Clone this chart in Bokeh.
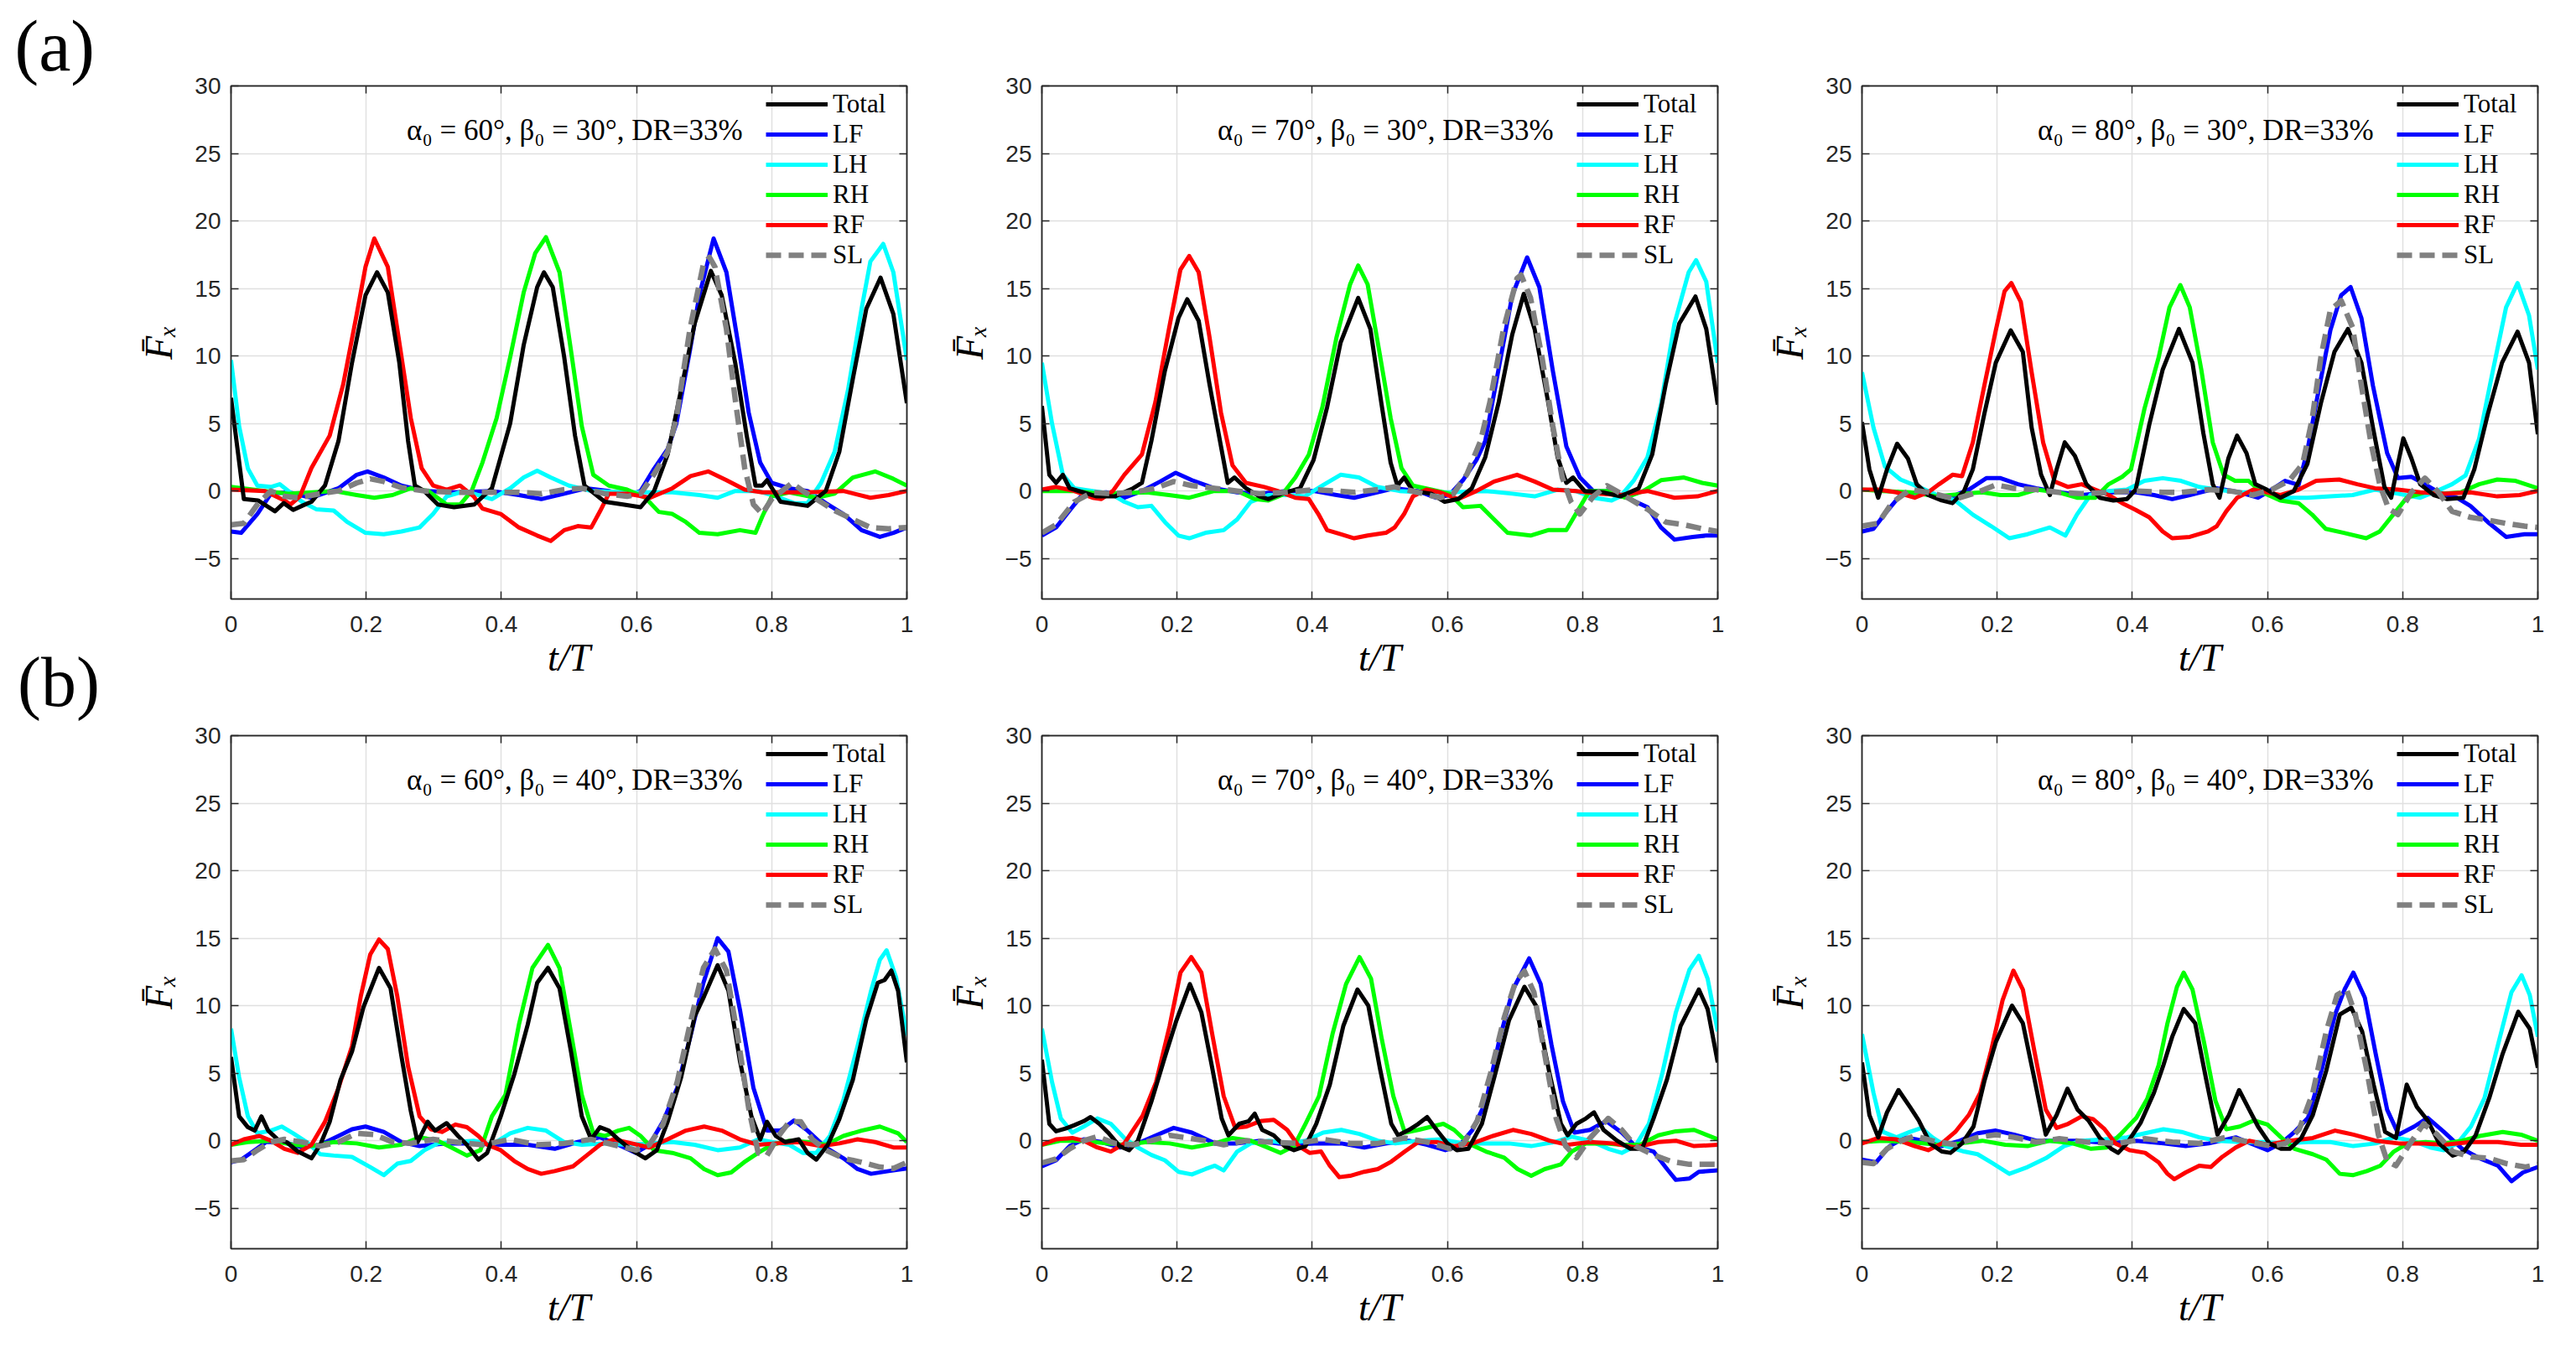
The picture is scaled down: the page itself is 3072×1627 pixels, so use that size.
from bokeh.plotting import figure
from bokeh.models import (Range1d, LinearAxis, Label, Legend, LegendItem,
                          FixedTicker, CustomJSTickFormatter)
from bokeh.layouts import column, row
from bokeh.embed import file_html
from bokeh.resources import INLINE

# ---------------- data (t/T, F_x) ----------------
T_TICKS = [0, 0.2, 0.4, 0.6, 0.8, 1]
F_TICKS = [-5, 0, 5, 10, 15, 20, 25, 30]
SERIES = ["Total", "LF", "LH", "RH", "RF", "SL"]
PANEL_TEXTS = [
    "α₀ = 60°, β₀ = 30°, DR=33%",
    "α₀ = 70°, β₀ = 30°, DR=33%",
    "α₀ = 80°, β₀ = 30°, DR=33%",
    "α₀ = 60°, β₀ = 40°, DR=33%",
    "α₀ = 70°, β₀ = 40°, DR=33%",
    "α₀ = 80°, β₀ = 40°, DR=33%",
]
ROW_TAGS = ["(a)", "(b)"]

# ---- (a) alpha0 = 60, beta0 = 30
A60B30_TOTAL = [(0,6.9),(0.019,-0.6),(0.04,-0.7),(0.065,-1.5),(0.078,-0.9),(0.092,-1.4),(0.105,-1.1),(0.119,-0.8),(0.139,0.4),(0.159,3.7),(0.179,9.5),(0.199,14.5),(0.216,16.2),(0.232,14.7),(0.249,9.5),(0.262,3.7),(0.272,0.4),(0.286,0.0),(0.306,-1.0),(0.33,-1.2),(0.36,-1.0),(0.386,0.2),(0.413,5.0),(0.433,10.8),(0.453,15.1),(0.463,16.2),(0.476,15.1),(0.493,9.9),(0.509,4.1),(0.523,0.4),(0.553,-0.8),(0.58,-1.0),(0.606,-1.2),(0.626,0.0),(0.646,2.7),(0.666,7.5),(0.686,12.4),(0.71,16.3),(0.726,14.5),(0.746,9.5),(0.763,4.1),(0.776,0.4),(0.786,0.4),(0.793,0.8),(0.813,-0.8),(0.853,-1.1),(0.88,0.0),(0.9,2.9),(0.92,8.3),(0.94,13.5),(0.961,15.8),(0.98,13.1),(1.0,6.5)]
A60B30_LF = [(0,-3.0),(0.015,-3.1),(0.039,-1.7),(0.059,-0.2),(0.085,-0.1),(0.119,-0.5),(0.159,0.2),(0.186,1.2),(0.202,1.45),(0.226,1.0),(0.252,0.4),(0.286,0.0),(0.332,-0.1),(0.386,0.0),(0.426,-0.3),(0.459,-0.6),(0.493,-0.2),(0.526,0.2),(0.559,0.0),(0.586,-0.4),(0.606,0.0),(0.626,1.65),(0.646,3.1),(0.659,5.0),(0.679,10.4),(0.693,14.5),(0.714,18.7),(0.733,16.2),(0.75,11.0),(0.766,5.8),(0.783,2.1),(0.8,0.6),(0.826,0.2),(0.853,0.0),(0.88,-0.9),(0.906,-1.7),(0.933,-2.9),(0.96,-3.4),(0.98,-3.1),(1.0,-2.7)]
A60B30_LH = [(0,9.7),(0.012,4.8),(0.025,1.65),(0.039,0.4),(0.059,0.3),(0.072,0.5),(0.085,0.0),(0.105,-0.8),(0.126,-1.35),(0.152,-1.45),(0.172,-2.3),(0.199,-3.1),(0.226,-3.2),(0.252,-3.0),(0.279,-2.7),(0.299,-1.7),(0.319,-0.4),(0.339,-0.1),(0.359,-0.2),(0.386,-0.6),(0.413,0.2),(0.433,1.0),(0.453,1.5),(0.473,1.0),(0.5,0.4),(0.533,0.0),(0.586,-0.1),(0.653,-0.1),(0.693,-0.3),(0.72,-0.5),(0.746,0.0),(0.78,0.0),(0.806,-0.4),(0.833,-0.9),(0.853,-0.9),(0.873,0.6),(0.893,2.9),(0.913,7.5),(0.933,13.5),(0.946,17.0),(0.965,18.3),(0.98,16.2),(1.0,9.7)]
A60B30_RH = [(0,0.3),(0.05,0.0),(0.085,-0.2),(0.152,0.0),(0.186,-0.3),(0.212,-0.5),(0.239,-0.3),(0.266,0.2),(0.292,0.0),(0.319,-1.0),(0.339,-1.0),(0.356,0.0),(0.372,2.1),(0.393,5.4),(0.413,9.9),(0.433,14.7),(0.45,17.6),(0.466,18.8),(0.486,16.2),(0.503,10.4),(0.519,4.8),(0.536,1.2),(0.559,0.4),(0.586,0.1),(0.613,-0.5),(0.633,-1.55),(0.653,-1.7),(0.673,-2.3),(0.693,-3.1),(0.72,-3.2),(0.753,-2.9),(0.776,-3.1),(0.786,-1.9),(0.8,-0.4),(0.826,-0.1),(0.866,-0.5),(0.893,-0.2),(0.92,1.0),(0.953,1.45),(0.98,0.9),(1.0,0.4)]
A60B30_RF = [(0,0.1),(0.05,0.0),(0.079,-0.7),(0.088,-1.0),(0.102,-0.4),(0.119,1.7),(0.146,4.1),(0.166,7.9),(0.186,13.1),(0.199,16.6),(0.212,18.7),(0.232,16.6),(0.249,11.0),(0.266,5.4),(0.282,1.7),(0.299,0.4),(0.319,0.1),(0.339,0.4),(0.359,-0.4),(0.372,-1.3),(0.399,-1.7),(0.426,-2.7),(0.453,-3.3),(0.473,-3.7),(0.493,-2.9),(0.513,-2.6),(0.533,-2.7),(0.546,-1.5),(0.559,-0.2),(0.586,-0.2),(0.62,-0.5),(0.653,0.2),(0.68,1.1),(0.706,1.45),(0.733,0.8),(0.76,0.1),(0.786,-0.1),(0.853,-0.1),(0.906,0.0),(0.946,-0.5),(0.973,-0.3),(1.0,0.0)]
A60B30_SL = [(0,-2.5),(0.019,-2.4),(0.039,-1.0),(0.059,0.0),(0.079,-0.4),(0.099,-0.5),(0.132,-0.2),(0.159,0.0),(0.186,0.6),(0.206,0.9),(0.226,0.7),(0.252,0.25),(0.286,0.0),(0.332,-0.1),(0.386,-0.1),(0.426,-0.1),(0.459,-0.2),(0.493,0.1),(0.519,0.2),(0.553,-0.2),(0.586,-0.4),(0.606,-0.2),(0.626,1.25),(0.646,2.9),(0.659,5.4),(0.679,12.0),(0.699,16.8),(0.708,17.3),(0.716,16.6),(0.733,12.0),(0.746,6.8),(0.76,1.7),(0.773,-1.0),(0.786,-1.7),(0.8,-0.6),(0.82,0.2),(0.83,0.6),(0.846,0.0),(0.866,-0.6),(0.893,-1.45),(0.92,-2.1),(0.946,-2.7),(0.973,-2.8),(1.0,-2.7)]

# ---- (a) alpha0 = 70, beta0 = 30
A70B30_TOTAL = [(0,6.3),(0.011,1.2),(0.021,0.6),(0.031,1.2),(0.041,0.2),(0.061,-0.1),(0.081,-0.4),(0.108,-0.4),(0.135,0.2),(0.148,0.6),(0.162,3.7),(0.182,8.9),(0.202,12.8),(0.215,14.2),(0.232,12.6),(0.248,7.9),(0.265,3.3),(0.275,0.6),(0.285,1.0),(0.302,0.2),(0.322,-0.4),(0.335,-0.6),(0.355,-0.2),(0.382,0.2),(0.402,2.3),(0.422,6.2),(0.442,11.0),(0.468,14.3),(0.486,12.0),(0.502,6.6),(0.516,2.1),(0.526,0.4),(0.536,1.0),(0.549,0.0),(0.576,-0.2),(0.596,-0.8),(0.616,-0.6),(0.636,0.2),(0.656,2.5),(0.676,6.6),(0.696,11.6),(0.713,14.6),(0.729,12.0),(0.749,6.6),(0.763,2.5),(0.776,0.6),(0.786,1.0),(0.803,0.0),(0.83,-0.1),(0.856,-0.4),(0.883,0.2),(0.903,2.7),(0.923,7.9),(0.943,12.4),(0.967,14.4),(0.983,12.0),(1.0,6.4)]
A70B30_LF = [(0,-3.3),(0.021,-2.7),(0.041,-1.45),(0.061,-0.2),(0.095,-0.1),(0.122,-0.5),(0.148,0.0),(0.175,0.7),(0.198,1.35),(0.222,0.8),(0.255,0.2),(0.289,-0.1),(0.322,-0.2),(0.362,0.0),(0.402,0.0),(0.436,-0.3),(0.462,-0.5),(0.496,-0.1),(0.522,0.2),(0.556,0.0),(0.583,-0.5),(0.603,-0.3),(0.623,0.8),(0.643,2.3),(0.656,3.7),(0.676,9.1),(0.696,14.5),(0.718,17.3),(0.736,15.1),(0.756,8.9),(0.776,3.3),(0.796,1.0),(0.816,0.0),(0.843,0.0),(0.87,-0.6),(0.896,-1.2),(0.916,-2.7),(0.936,-3.6),(0.963,-3.4),(0.983,-3.3),(1.0,-3.3)]
A70B30_LH = [(0,9.5),(0.015,5.0),(0.031,1.2),(0.048,0.2),(0.075,0.0),(0.102,-0.2),(0.122,-0.8),(0.142,-1.2),(0.162,-1.1),(0.182,-2.3),(0.202,-3.3),(0.218,-3.5),(0.242,-3.1),(0.269,-2.9),(0.289,-2.1),(0.309,-0.8),(0.335,-0.3),(0.362,-0.3),(0.389,-0.4),(0.415,0.4),(0.442,1.2),(0.469,1.0),(0.496,0.3),(0.529,0.0),(0.562,-0.1),(0.603,-0.1),(0.656,0.0),(0.696,-0.2),(0.729,-0.4),(0.763,0.1),(0.79,0.0),(0.816,-0.5),(0.843,-0.7),(0.856,-0.4),(0.876,0.8),(0.896,2.5),(0.916,6.4),(0.936,12.4),(0.957,16.2),(0.968,17.1),(0.983,15.5),(1.0,9.5)]
A70B30_RH = [(0,0.0),(0.048,0.0),(0.088,-0.2),(0.155,-0.1),(0.188,-0.3),(0.218,-0.5),(0.255,0.0),(0.289,0.0),(0.315,-0.6),(0.335,-0.7),(0.355,-0.3),(0.375,1.0),(0.395,2.7),(0.415,6.2),(0.436,11.4),(0.456,15.3),(0.468,16.7),(0.482,15.3),(0.499,10.4),(0.516,5.4),(0.532,1.7),(0.549,0.4),(0.576,0.1),(0.603,-0.2),(0.623,-1.2),(0.649,-1.1),(0.669,-2.1),(0.689,-3.1),(0.723,-3.3),(0.749,-2.9),(0.776,-2.9),(0.79,-1.7),(0.81,0.0),(0.836,0.0),(0.863,-0.5),(0.89,0.0),(0.916,0.8),(0.95,1.0),(0.977,0.6),(1.0,0.4)]
A70B30_RF = [(0,0.1),(0.021,0.3),(0.048,0.0),(0.075,-0.5),(0.088,-0.6),(0.105,0.0),(0.122,1.2),(0.148,2.7),(0.168,6.6),(0.188,12.0),(0.205,16.4),(0.218,17.4),(0.232,16.2),(0.248,11.4),(0.265,5.8),(0.282,1.9),(0.302,0.6),(0.329,0.3),(0.349,0.0),(0.375,-0.5),(0.395,-0.6),(0.409,-1.7),(0.422,-2.9),(0.442,-3.2),(0.462,-3.5),(0.482,-3.3),(0.509,-3.1),(0.522,-2.7),(0.536,-1.7),(0.549,-0.4),(0.569,0.1),(0.589,-0.1),(0.616,-0.6),(0.643,0.0),(0.669,0.7),(0.703,1.2),(0.729,0.7),(0.756,0.1),(0.79,0.0),(0.823,-0.2),(0.856,-0.3),(0.896,0.0),(0.936,-0.5),(0.97,-0.4),(1.0,0.0)]
A70B30_SL = [(0,-3.1),(0.021,-2.5),(0.048,-0.8),(0.075,-0.1),(0.102,-0.2),(0.135,-0.1),(0.168,0.2),(0.195,0.7),(0.222,0.4),(0.255,0.2),(0.289,0.0),(0.322,-0.2),(0.362,-0.1),(0.402,0.1),(0.436,0.0),(0.462,-0.1),(0.496,0.1),(0.522,0.3),(0.556,-0.1),(0.589,-0.5),(0.609,-0.2),(0.629,1.25),(0.649,3.7),(0.663,6.6),(0.683,12.0),(0.703,15.75),(0.709,16.0),(0.723,14.3),(0.74,9.9),(0.756,4.8),(0.77,1.0),(0.783,-0.8),(0.796,-1.7),(0.816,-0.4),(0.836,0.4),(0.85,0.0),(0.87,-0.6),(0.896,-1.35),(0.923,-2.3),(0.95,-2.5),(0.977,-2.8),(1.0,-3.0)]

# ---- (a) alpha0 = 80, beta0 = 30
A80B30_TOTAL = [(0,5.1),(0.011,1.6),(0.024,-0.5),(0.037,1.6),(0.052,3.5),(0.068,2.4),(0.081,0.5),(0.098,-0.3),(0.118,-0.7),(0.134,-0.9),(0.151,0.0),(0.164,1.6),(0.181,5.7),(0.198,9.5),(0.22,11.9),(0.238,10.3),(0.251,4.7),(0.265,1.2),(0.278,-0.3),(0.288,1.6),(0.3,3.6),(0.315,2.6),(0.332,0.5),(0.352,-0.5),(0.372,-0.7),(0.392,-0.6),(0.405,0.1),(0.425,4.9),(0.445,9.0),(0.469,12.0),(0.489,9.5),(0.505,4.3),(0.519,0.5),(0.529,-0.5),(0.542,2.4),(0.555,4.1),(0.569,2.8),(0.582,0.5),(0.599,0.1),(0.619,-0.5),(0.639,0.0),(0.659,2.0),(0.679,6.5),(0.699,10.3),(0.719,12.0),(0.739,9.5),(0.756,4.7),(0.773,0.3),(0.783,-0.5),(0.793,2.0),(0.801,3.9),(0.813,2.4),(0.826,0.5),(0.846,-0.3),(0.866,-0.6),(0.89,-0.5),(0.906,1.6),(0.926,5.7),(0.947,9.5),(0.97,11.8),(0.987,9.5),(1.0,4.2)]
A80B30_LF = [(0,-3.0),(0.017,-2.8),(0.037,-1.5),(0.057,-0.3),(0.084,-0.1),(0.124,-0.6),(0.158,0.1),(0.184,0.95),(0.205,0.95),(0.231,0.5),(0.258,0.2),(0.291,-0.1),(0.325,-0.3),(0.365,-0.1),(0.405,-0.1),(0.432,-0.3),(0.459,-0.6),(0.485,-0.3),(0.525,0.2),(0.559,-0.1),(0.586,-0.5),(0.606,0.1),(0.626,0.75),(0.646,0.45),(0.659,3.0),(0.672,6.5),(0.693,11.9),(0.709,14.5),(0.723,15.1),(0.739,12.8),(0.756,7.8),(0.777,2.8),(0.793,0.95),(0.813,1.05),(0.833,0.5),(0.853,-0.1),(0.88,-0.5),(0.9,-1.1),(0.926,-2.3),(0.953,-3.4),(0.98,-3.2),(1.0,-3.2)]
A80B30_LH = [(0,8.8),(0.017,4.7),(0.034,1.8),(0.057,0.85),(0.084,0.3),(0.111,-0.3),(0.138,-0.7),(0.164,-1.75),(0.191,-2.6),(0.218,-3.5),(0.245,-3.2),(0.278,-2.7),(0.301,-3.3),(0.318,-1.75),(0.338,-0.3),(0.365,0.0),(0.392,0.1),(0.418,0.75),(0.445,0.95),(0.472,0.75),(0.499,0.3),(0.525,0.1),(0.559,-0.1),(0.592,-0.1),(0.626,-0.5),(0.659,-0.5),(0.693,-0.4),(0.726,-0.3),(0.759,0.1),(0.793,-0.2),(0.826,-0.5),(0.846,-0.1),(0.873,0.5),(0.893,1.15),(0.913,3.85),(0.933,8.8),(0.953,13.6),(0.97,15.4),(0.987,13.0),(1.0,9.0)]
A80B30_RH = [(0,0.1),(0.031,0.0),(0.071,-0.1),(0.111,-0.4),(0.151,-0.2),(0.178,-0.1),(0.205,-0.3),(0.231,-0.3),(0.258,0.1),(0.291,-0.1),(0.318,-0.5),(0.345,-0.5),(0.365,0.5),(0.385,1.05),(0.398,1.6),(0.418,6.1),(0.439,9.9),(0.455,13.6),(0.471,15.25),(0.485,13.6),(0.502,9.0),(0.519,3.6),(0.535,1.2),(0.552,0.75),(0.572,0.75),(0.592,-0.1),(0.619,-0.7),(0.646,-0.9),(0.666,-1.75),(0.686,-2.8),(0.713,-3.1),(0.746,-3.5),(0.766,-3.0),(0.786,-1.75),(0.806,-0.5),(0.833,-0.1),(0.86,-0.2),(0.886,-0.1),(0.913,0.5),(0.94,0.85),(0.967,0.75),(1.0,0.2)]
A80B30_RF = [(0,0.1),(0.024,0.1),(0.051,-0.1),(0.078,-0.5),(0.098,-0.1),(0.114,0.5),(0.134,1.2),(0.148,1.1),(0.164,3.6),(0.181,7.8),(0.198,11.9),(0.211,14.8),(0.221,15.4),(0.235,14.0),(0.251,8.8),(0.268,3.6),(0.285,0.7),(0.305,0.3),(0.325,0.5),(0.345,0.1),(0.365,-0.3),(0.385,-0.9),(0.405,-1.4),(0.425,-1.95),(0.445,-3.0),(0.459,-3.5),(0.485,-3.4),(0.512,-3.0),(0.525,-2.6),(0.539,-1.5),(0.555,-0.5),(0.579,0.1),(0.599,-0.1),(0.619,-0.3),(0.646,0.1),(0.672,0.75),(0.706,0.85),(0.733,0.5),(0.759,0.2),(0.793,0.1),(0.826,-0.1),(0.86,-0.2),(0.9,-0.1),(0.94,-0.4),(0.973,-0.3),(1.0,0.0)]
A80B30_SL = [(0,-2.6),(0.024,-2.4),(0.044,-0.9),(0.071,0.1),(0.098,-0.1),(0.138,-0.6),(0.171,-0.1),(0.198,0.45),(0.225,0.2),(0.258,0.1),(0.291,-0.1),(0.325,-0.2),(0.365,-0.1),(0.405,0.0),(0.445,-0.1),(0.472,-0.1),(0.512,0.1),(0.545,0.0),(0.579,-0.3),(0.606,0.1),(0.632,0.75),(0.652,2.0),(0.666,5.3),(0.679,9.9),(0.693,13.4),(0.709,14.1),(0.726,12.1),(0.739,7.8),(0.753,3.6),(0.766,0.5),(0.779,-1.3),(0.793,-1.75),(0.813,-0.1),(0.833,0.95),(0.853,-0.1),(0.873,-1.5),(0.9,-1.95),(0.926,-2.15),(0.953,-2.4),(0.98,-2.6),(1.0,-2.7)]

# ---- (b) alpha0 = 60, beta0 = 40
A60B40_TOTAL = [(0,6.2),(0.012,1.8),(0.025,1.0),(0.035,0.75),(0.045,1.8),(0.055,0.75),(0.069,0.1),(0.082,-0.1),(0.099,-0.8),(0.119,-1.3),(0.132,-0.3),(0.146,1.4),(0.162,4.5),(0.179,6.6),(0.196,9.9),(0.219,12.8),(0.236,11.3),(0.252,6.3),(0.266,2.2),(0.276,-0.1),(0.291,1.4),(0.302,0.75),(0.319,1.3),(0.336,0.35),(0.349,-0.3),(0.366,-1.4),(0.379,-0.9),(0.399,1.8),(0.419,4.9),(0.439,8.6),(0.453,11.7),(0.469,12.8),(0.486,11.3),(0.503,6.6),(0.519,1.8),(0.533,0.1),(0.546,1.0),(0.559,0.75),(0.573,0.1),(0.593,-0.7),(0.613,-1.3),(0.63,-0.7),(0.646,1.4),(0.666,4.7),(0.686,9.2),(0.7,10.7),(0.72,13.0),(0.736,11.1),(0.753,5.9),(0.77,1.8),(0.783,0.1),(0.793,1.4),(0.806,0.35),(0.82,-0.1),(0.84,0.1),(0.853,-0.9),(0.866,-1.4),(0.883,-0.3),(0.9,1.6),(0.92,4.5),(0.94,9.0),(0.957,11.7),(0.967,11.9),(0.977,12.6),(0.987,11.1),(1.0,5.8)]
A60B40_LF = [(0,-1.6),(0.015,-1.4),(0.035,-0.7),(0.052,-0.1),(0.079,-0.1),(0.105,-0.5),(0.132,-0.3),(0.159,0.35),(0.179,0.85),(0.199,1.05),(0.226,0.65),(0.252,-0.1),(0.279,-0.4),(0.319,-0.2),(0.359,-0.2),(0.399,-0.3),(0.439,-0.3),(0.479,-0.6),(0.513,-0.1),(0.546,0.25),(0.573,-0.3),(0.599,-0.9),(0.619,-0.3),(0.639,1.4),(0.66,3.9),(0.679,7.6),(0.699,11.7),(0.72,15.0),(0.736,14.0),(0.753,9.7),(0.773,3.9),(0.793,0.75),(0.813,0.75),(0.833,1.5),(0.853,0.75),(0.88,-0.5),(0.906,-1.3),(0.927,-2.1),(0.947,-2.45),(0.973,-2.25),(1.0,-2.05)]
A60B40_LH = [(0,8.3),(0.012,4.7),(0.025,1.8),(0.039,0.55),(0.059,0.75),(0.075,1.05),(0.092,0.55),(0.112,-0.1),(0.132,-1.0),(0.152,-1.1),(0.179,-1.2),(0.206,-1.95),(0.226,-2.55),(0.246,-1.7),(0.266,-1.5),(0.286,-0.7),(0.306,-0.2),(0.332,-0.1),(0.359,0.0),(0.386,-0.3),(0.413,0.55),(0.439,0.95),(0.466,0.75),(0.493,-0.1),(0.519,-0.3),(0.553,-0.2),(0.586,-0.3),(0.619,-0.2),(0.653,-0.1),(0.686,-0.3),(0.72,-0.7),(0.753,-0.5),(0.78,0.1),(0.8,-0.1),(0.826,-0.3),(0.846,-0.9),(0.866,-0.9),(0.886,0.35),(0.906,3.0),(0.927,7.0),(0.947,11.1),(0.96,13.4),(0.97,14.1),(0.984,12.1),(1.0,7.8)]
A60B40_RH = [(0,-0.3),(0.025,-0.1),(0.059,0.0),(0.092,-0.3),(0.119,-0.4),(0.152,-0.1),(0.186,-0.2),(0.219,-0.5),(0.252,-0.3),(0.279,0.25),(0.306,0.0),(0.326,-0.5),(0.349,-1.1),(0.369,-0.7),(0.386,1.8),(0.406,3.4),(0.426,8.6),(0.446,12.8),(0.469,14.5),(0.486,12.8),(0.503,8.0),(0.519,3.4),(0.536,0.55),(0.553,0.35),(0.573,0.75),(0.589,0.95),(0.606,0.35),(0.626,-0.7),(0.653,-0.9),(0.68,-1.3),(0.7,-2.1),(0.72,-2.55),(0.74,-2.35),(0.759,-1.6),(0.78,-0.9),(0.8,-0.3),(0.826,0.0),(0.853,-0.1),(0.88,-0.3),(0.906,0.35),(0.933,0.75),(0.96,1.05),(0.987,0.55),(1.0,-0.1)]
A60B40_RF = [(0,-0.3),(0.019,0.1),(0.042,0.35),(0.059,0.0),(0.079,-0.6),(0.099,-0.9),(0.119,-0.3),(0.139,1.4),(0.159,3.9),(0.179,7.0),(0.192,10.7),(0.206,13.8),(0.219,14.9),(0.232,14.2),(0.246,10.7),(0.262,5.5),(0.279,1.8),(0.296,0.85),(0.312,0.65),(0.332,1.2),(0.349,1.0),(0.366,0.35),(0.379,-0.3),(0.399,-0.7),(0.419,-1.5),(0.439,-2.1),(0.459,-2.45),(0.479,-2.25),(0.506,-1.9),(0.526,-1.1),(0.546,-0.3),(0.566,0.1),(0.593,-0.2),(0.619,-0.5),(0.646,0.1),(0.673,0.75),(0.7,1.05),(0.726,0.75),(0.753,0.1),(0.78,-0.3),(0.806,-0.2),(0.84,-0.1),(0.873,-0.4),(0.9,-0.2),(0.927,0.1),(0.953,-0.1),(0.98,-0.5),(1.0,-0.5)]
A60B40_SL = [(0,-1.5),(0.019,-1.4),(0.039,-0.7),(0.059,-0.1),(0.079,0.1),(0.105,-0.1),(0.132,-0.4),(0.159,-0.1),(0.186,0.55),(0.212,0.45),(0.239,-0.1),(0.266,-0.2),(0.299,0.1),(0.332,-0.1),(0.372,-0.3),(0.413,0.1),(0.453,-0.3),(0.493,-0.2),(0.533,0.1),(0.566,-0.3),(0.599,-0.7),(0.619,-0.3),(0.639,1.2),(0.66,4.3),(0.679,8.6),(0.699,12.8),(0.716,14.2),(0.733,12.6),(0.75,7.6),(0.766,2.4),(0.78,-0.9),(0.793,-1.1),(0.81,0.35),(0.826,1.4),(0.843,1.4),(0.86,0.1),(0.88,-0.7),(0.906,-1.3),(0.933,-1.6),(0.96,-1.95),(0.98,-2.05),(1.0,-1.6)]

# ---- (b) alpha0 = 70, beta0 = 40
A70B40_TOTAL = [(0,6.0),(0.011,1.25),(0.021,0.7),(0.035,0.9),(0.048,1.15),(0.062,1.45),(0.072,1.75),(0.085,1.25),(0.098,0.6),(0.115,-0.4),(0.129,-0.7),(0.142,0.0),(0.162,2.9),(0.182,6.2),(0.199,8.9),(0.219,11.6),(0.236,9.5),(0.252,5.4),(0.266,1.65),(0.276,0.4),(0.292,1.25),(0.306,1.45),(0.315,2.0),(0.326,0.8),(0.343,0.4),(0.359,-0.4),(0.373,-0.7),(0.39,-0.4),(0.406,1.25),(0.426,4.15),(0.446,8.5),(0.467,11.2),(0.483,10.0),(0.5,5.4),(0.517,1.25),(0.527,0.4),(0.543,0.8),(0.557,1.25),(0.57,1.75),(0.584,0.8),(0.6,-0.2),(0.614,-0.7),(0.631,-0.6),(0.651,1.25),(0.671,5.0),(0.691,8.9),(0.714,11.4),(0.731,10.0),(0.751,5.0),(0.768,1.25),(0.778,0.4),(0.791,1.25),(0.805,1.65),(0.817,2.1),(0.831,0.8),(0.851,0.0),(0.871,-0.6),(0.888,-0.6),(0.905,1.65),(0.925,4.55),(0.945,8.5),(0.972,11.2),(0.985,9.75),(1.0,5.8)]
A70B40_LF = [(0,-1.9),(0.021,-1.45),(0.041,-0.4),(0.062,0.1),(0.088,-0.1),(0.115,-0.5),(0.142,-0.2),(0.169,0.4),(0.195,0.95),(0.222,0.6),(0.256,-0.2),(0.289,-0.2),(0.323,0.0),(0.363,-0.3),(0.403,-0.2),(0.443,-0.2),(0.477,-0.5),(0.51,-0.2),(0.543,0.0),(0.57,-0.3),(0.597,-0.7),(0.617,-0.4),(0.637,0.8),(0.657,2.9),(0.677,7.5),(0.697,11.2),(0.721,13.5),(0.738,11.6),(0.754,7.1),(0.771,2.9),(0.788,0.6),(0.811,0.8),(0.835,1.45),(0.858,0.6),(0.878,-0.4),(0.905,-0.8),(0.925,-2.1),(0.938,-2.9),(0.958,-2.8),(0.972,-2.3),(1.0,-2.2)]
A70B40_LH = [(0,8.3),(0.015,4.35),(0.028,1.65),(0.045,0.6),(0.062,1.05),(0.082,1.65),(0.102,1.25),(0.122,0.2),(0.142,-0.5),(0.162,-1.05),(0.182,-1.45),(0.202,-2.3),(0.222,-2.5),(0.242,-2.1),(0.256,-1.85),(0.269,-2.2),(0.289,-0.8),(0.309,-0.2),(0.336,0.0),(0.363,-0.2),(0.39,0.0),(0.416,0.6),(0.443,0.8),(0.47,0.5),(0.497,0.0),(0.523,-0.2),(0.557,0.0),(0.59,0.1),(0.624,-0.2),(0.657,-0.2),(0.691,-0.2),(0.724,-0.4),(0.758,-0.1),(0.784,0.3),(0.811,0.0),(0.838,-0.6),(0.858,-0.9),(0.878,-0.4),(0.898,1.25),(0.918,5.0),(0.938,9.5),(0.958,12.65),(0.972,13.7),(0.985,12.0),(1.0,8.1)]
A70B40_RH = [(0,-0.3),(0.028,0.0),(0.062,0.0),(0.095,-0.2),(0.122,-0.3),(0.155,-0.1),(0.189,-0.2),(0.222,-0.5),(0.256,-0.2),(0.282,0.2),(0.309,0.0),(0.329,-0.4),(0.353,-0.9),(0.373,-0.4),(0.39,1.25),(0.41,3.3),(0.43,7.9),(0.45,11.6),(0.47,13.6),(0.487,12.0),(0.503,7.5),(0.52,3.3),(0.537,0.6),(0.557,0.8),(0.577,1.05),(0.594,1.25),(0.61,0.8),(0.631,-0.2),(0.657,-0.8),(0.684,-1.25),(0.704,-2.1),(0.724,-2.6),(0.744,-2.1),(0.768,-1.75),(0.784,-0.8),(0.805,-0.2),(0.831,-0.2),(0.858,-0.3),(0.885,-0.3),(0.912,0.4),(0.938,0.7),(0.965,0.8),(1.0,0.1)]
A70B40_RF = [(0,-0.3),(0.021,0.1),(0.045,0.2),(0.062,0.0),(0.082,-0.5),(0.102,-0.8),(0.122,-0.2),(0.149,1.85),(0.169,4.35),(0.189,8.5),(0.205,12.45),(0.221,13.6),(0.236,12.45),(0.252,7.9),(0.269,3.3),(0.286,0.95),(0.303,1.05),(0.323,1.45),(0.343,1.55),(0.363,0.8),(0.38,-0.4),(0.396,-0.9),(0.413,-0.8),(0.426,-1.85),(0.44,-2.7),(0.456,-2.6),(0.477,-2.3),(0.497,-2.1),(0.517,-1.55),(0.537,-0.8),(0.557,-0.1),(0.584,-0.1),(0.61,-0.4),(0.637,-0.2),(0.664,0.3),(0.697,0.8),(0.724,0.5),(0.751,0.0),(0.778,-0.3),(0.811,-0.1),(0.845,-0.2),(0.878,-0.5),(0.912,-0.1),(0.938,0.0),(0.965,-0.4),(1.0,-0.3)]
A70B40_SL = [(0,-1.65),(0.021,-1.35),(0.041,-0.6),(0.062,0.0),(0.082,0.3),(0.108,-0.2),(0.135,-0.3),(0.162,0.0),(0.189,0.4),(0.216,0.2),(0.242,0.0),(0.269,-0.3),(0.303,0.0),(0.336,-0.1),(0.376,-0.2),(0.416,0.1),(0.456,-0.2),(0.497,-0.2),(0.537,0.2),(0.57,-0.1),(0.604,-0.6),(0.624,-0.2),(0.644,1.45),(0.664,5.0),(0.684,9.1),(0.701,11.8),(0.714,12.55),(0.728,11.0),(0.744,6.4),(0.761,1.65),(0.775,-0.4),(0.791,-1.25),(0.811,0.2),(0.838,1.65),(0.858,0.8),(0.878,-0.4),(0.905,-1.05),(0.932,-1.55),(0.958,-1.75),(1.0,-1.75)]

# ---- (b) alpha0 = 80, beta0 = 40
A80B40_TOTAL = [(0,5.8),(0.011,1.9),(0.024,0.25),(0.037,2.1),(0.054,3.75),(0.071,2.5),(0.084,1.5),(0.101,-0.2),(0.118,-0.8),(0.131,-0.9),(0.148,-0.2),(0.165,1.05),(0.181,4.4),(0.198,7.3),(0.222,10.0),(0.238,8.7),(0.255,4.6),(0.272,0.45),(0.288,1.9),(0.304,3.85),(0.319,2.3),(0.335,1.5),(0.352,0.2),(0.369,-0.6),(0.379,-0.9),(0.392,-0.2),(0.412,1.3),(0.432,3.55),(0.446,5.6),(0.459,7.7),(0.476,9.75),(0.493,8.7),(0.509,4.6),(0.526,0.45),(0.543,1.9),(0.558,3.75),(0.573,2.3),(0.586,1.05),(0.603,-0.2),(0.62,-0.6),(0.633,-0.6),(0.65,0.2),(0.667,1.9),(0.687,5.2),(0.707,9.35),(0.724,9.85),(0.74,8.1),(0.757,4.15),(0.774,0.65),(0.79,0.2),(0.806,4.15),(0.821,2.5),(0.837,1.5),(0.854,-0.2),(0.874,-1.1),(0.891,-0.8),(0.908,0.4),(0.928,3.15),(0.948,6.45),(0.971,9.55),(0.988,8.3),(1.0,5.4)]
A80B40_LF = [(0,-1.4),(0.021,-1.6),(0.041,-0.4),(0.064,0.25),(0.091,0.0),(0.118,-0.4),(0.145,0.0),(0.171,0.55),(0.198,0.75),(0.225,0.45),(0.258,0.0),(0.292,0.0),(0.325,0.0),(0.365,-0.2),(0.406,0.0),(0.446,-0.2),(0.479,-0.4),(0.513,-0.2),(0.553,0.25),(0.58,-0.3),(0.6,-0.7),(0.62,-0.2),(0.64,0.65),(0.66,1.7),(0.68,5.2),(0.7,9.35),(0.714,11.2),(0.727,12.45),(0.744,10.6),(0.76,6.45),(0.777,2.3),(0.794,0.45),(0.817,1.05),(0.837,1.7),(0.861,0.65),(0.888,-0.6),(0.914,-1.3),(0.941,-1.85),(0.961,-3.0),(0.978,-2.35),(1.0,-1.95)]
A80B40_LH = [(0,7.9),(0.017,3.55),(0.031,0.65),(0.051,0.25),(0.071,0.65),(0.088,0.95),(0.104,0.25),(0.124,-0.4),(0.151,-0.8),(0.171,-1.0),(0.191,-1.6),(0.218,-2.45),(0.245,-1.95),(0.272,-1.3),(0.299,-0.4),(0.325,0.0),(0.359,0.1),(0.392,0.25),(0.419,0.55),(0.446,0.85),(0.473,0.65),(0.499,0.25),(0.526,0.0),(0.56,-0.1),(0.593,-0.1),(0.627,-0.2),(0.66,-0.1),(0.693,-0.1),(0.727,-0.4),(0.76,-0.2),(0.787,0.25),(0.814,0.0),(0.841,-0.5),(0.861,-0.7),(0.881,-0.2),(0.901,1.05),(0.921,3.15),(0.941,7.1),(0.961,11.0),(0.976,12.25),(0.988,10.8),(1.0,7.7)]
A80B40_RH = [(0,-0.1),(0.031,0.0),(0.071,-0.1),(0.111,-0.3),(0.145,-0.2),(0.178,0.0),(0.212,-0.3),(0.245,-0.4),(0.278,0.0),(0.312,-0.2),(0.339,-0.6),(0.362,-0.5),(0.382,0.45),(0.406,1.7),(0.422,3.1),(0.439,5.6),(0.452,8.7),(0.466,11.4),(0.476,12.45),(0.489,11.2),(0.506,7.3),(0.523,2.95),(0.539,0.85),(0.559,1.05),(0.58,1.5),(0.6,1.2),(0.62,0.25),(0.64,-0.6),(0.667,-1.0),(0.687,-1.4),(0.707,-2.45),(0.727,-2.55),(0.747,-2.25),(0.767,-1.85),(0.787,-0.8),(0.807,-0.2),(0.834,-0.1),(0.861,-0.2),(0.888,0.0),(0.914,0.35),(0.948,0.65),(0.975,0.45),(1.0,0.0)]
A80B40_RF = [(0,-0.2),(0.024,0.2),(0.051,0.1),(0.078,-0.4),(0.098,-0.7),(0.118,-0.2),(0.138,0.65),(0.158,1.9),(0.175,3.55),(0.191,6.65),(0.208,10.4),(0.224,12.6),(0.238,11.2),(0.255,6.65),(0.272,2.3),(0.288,0.95),(0.305,1.25),(0.325,1.8),(0.342,1.6),(0.359,0.85),(0.375,-0.2),(0.396,-0.7),(0.419,-0.9),(0.439,-1.6),(0.452,-2.45),(0.462,-2.85),(0.479,-2.35),(0.499,-1.85),(0.516,-1.95),(0.533,-1.2),(0.553,-0.5),(0.573,0.0),(0.6,-0.3),(0.633,0.0),(0.667,0.2),(0.7,0.75),(0.727,0.45),(0.76,0.0),(0.794,-0.2),(0.827,-0.2),(0.861,-0.3),(0.901,-0.1),(0.941,-0.1),(0.975,-0.3),(1.0,-0.3)]
A80B40_SL = [(0,-1.6),(0.017,-1.7),(0.037,-0.6),(0.058,0.0),(0.078,0.35),(0.104,0.0),(0.138,-0.3),(0.171,0.25),(0.198,0.45),(0.225,0.25),(0.258,-0.1),(0.292,0.15),(0.332,-0.1),(0.379,-0.2),(0.419,0.15),(0.459,-0.1),(0.499,-0.2),(0.539,0.25),(0.573,-0.1),(0.606,-0.4),(0.627,-0.2),(0.647,0.85),(0.667,3.55),(0.687,8.1),(0.703,10.8),(0.717,11.2),(0.73,9.35),(0.747,5.2),(0.764,0.45),(0.777,-1.5),(0.79,-1.85),(0.811,-0.2),(0.831,1.25),(0.851,0.45),(0.874,-0.8),(0.901,-1.2),(0.928,-1.3),(0.954,-1.7),(0.981,-1.95),(1.0,-1.75)]

PANEL_DATA = [
    dict(Total=A60B30_TOTAL, LF=A60B30_LF, LH=A60B30_LH, RH=A60B30_RH, RF=A60B30_RF, SL=A60B30_SL),
    dict(Total=A70B30_TOTAL, LF=A70B30_LF, LH=A70B30_LH, RH=A70B30_RH, RF=A70B30_RF, SL=A70B30_SL),
    dict(Total=A80B30_TOTAL, LF=A80B30_LF, LH=A80B30_LH, RH=A80B30_RH, RF=A80B30_RF, SL=A80B30_SL),
    dict(Total=A60B40_TOTAL, LF=A60B40_LF, LH=A60B40_LH, RH=A60B40_RH, RF=A60B40_RF, SL=A60B40_SL),
    dict(Total=A70B40_TOTAL, LF=A70B40_LF, LH=A70B40_LH, RH=A70B40_RH, RF=A70B40_RF, SL=A70B40_SL),
    dict(Total=A80B40_TOTAL, LF=A80B40_LF, LH=A80B40_LH, RH=A80B40_RH, RF=A80B40_RF, SL=A80B40_SL),
]

# ---------------- styling ----------------
STYLE = {
    "Total": dict(line_color="#000000", line_width=5),
    "LF": dict(line_color="#0000FF", line_width=5),
    "LH": dict(line_color="#00FFFF", line_width=5),
    "RH": dict(line_color="#00FF00", line_width=5),
    "RF": dict(line_color="#FF0000", line_width=5),
    "SL": dict(line_color="#808080", line_width=6.5, line_dash="18 9"),
}
DRAW_ORDER = ["LF", "LH", "RH", "RF", "Total", "SL"]
AX = "#262626"
SERIF = "Liberation Serif"
SANS = "Liberation Sans"
FW, FH = 806, 612


def style_axis(ax, labels=True):
    ax.axis_line_color = AX
    ax.axis_line_width = 1.5
    ax.major_tick_line_color = AX
    ax.major_tick_line_width = 1.5
    ax.major_tick_in = 9
    ax.major_tick_out = 0
    ax.minor_tick_line_color = None
    if labels:
        ax.major_label_text_font = SANS
        ax.major_label_text_font_size = "28px"
        ax.major_label_text_color = "#262626"
    else:
        ax.major_label_text_font_size = "1px"
        ax.major_label_standoff = 0
        ax.formatter = CustomJSTickFormatter(code="return '';")


def make_panel(idx, bl, br, bt, bb):
    p = figure(frame_width=FW, frame_height=FH,
               x_range=Range1d(0, 1), y_range=Range1d(-8, 30),
               output_backend="svg", toolbar_location=None,
               min_border_left=bl, min_border_right=br,
               min_border_top=bt, min_border_bottom=bb)
    p.background_fill_color = "white"
    p.border_fill_color = "white"
    p.outline_line_color = AX
    p.outline_line_width = 1.5

    p.add_layout(LinearAxis(), "above")
    p.add_layout(LinearAxis(), "right")
    for ax in p.xaxis:
        ax.ticker = FixedTicker(ticks=T_TICKS)
    for ax in p.yaxis:
        ax.ticker = FixedTicker(ticks=F_TICKS)
    for ax in p.below + p.left:
        style_axis(ax, True)
    for ax in p.above + p.right:
        style_axis(ax, False)

    p.below[0].formatter = CustomJSTickFormatter(
        code="return tick.toFixed(1).replace(/\\.0$/, '');")
    p.below[0].major_label_standoff = 20
    p.left[0].major_label_standoff = 12

    p.below[0].axis_label = "t/T"
    p.below[0].axis_label_text_font = SERIF
    p.below[0].axis_label_text_font_style = "italic"
    p.below[0].axis_label_text_font_size = "46px"
    p.below[0].axis_label_text_color = "#000000"
    p.below[0].axis_label_standoff = 2

    p.left[0].axis_label = "F̄ₓ"
    p.left[0].axis_label_text_font = SERIF
    p.left[0].axis_label_text_font_style = "italic"
    p.left[0].axis_label_text_font_size = "46px"
    p.left[0].axis_label_text_color = "#000000"
    p.left[0].axis_label_standoff = 14

    p.xgrid.grid_line_color = "#e0e0e0"
    p.ygrid.grid_line_color = "#e0e0e0"
    p.xgrid.grid_line_width = 1.5
    p.ygrid.grid_line_width = 1.5

    data = PANEL_DATA[idx]
    rends = {}
    for name in DRAW_ORDER:
        t = [pt[0] for pt in data[name]]
        v = [pt[1] for pt in data[name]]
        rends[name] = p.line(t, v, line_join="round", **STYLE[name])

    items = [LegendItem(label=name, renderers=[rends[name]]) for name in SERIES]
    legend = Legend(items=items, location="top_right", margin=4, padding=2,
                    spacing=0, glyph_width=74, glyph_height=36,
                    label_width=84, label_height=36, label_standoff=6,
                    label_text_font=SERIF, label_text_font_size="31px",
                    label_text_color="#000000",
                    border_line_color=None, background_fill_alpha=0)
    p.add_layout(legend)

    p.add_layout(Label(x=0.757, y=26.7, text=PANEL_TEXTS[idx],
                       text_align="right", text_baseline="alphabetic",
                       text_font=SERIF, text_font_size="35px",
                       text_color="#000000"))
    return p


# borders (left, right) per column and (top, bottom) per row
COLS = [(275, 21), (140, 32), (140, 20)]
ROWS = [(102, 146), (17, 110)]

figs = []
for r in range(2):
    for c in range(3):
        bl, br = COLS[c]
        bt, bb = ROWS[r]
        figs.append(make_panel(r * 3 + c, bl, br, bt, bb))

# row tag (a): title of the first panel, pushed to the far left
f1 = figs[0]
f1.title.text = ROW_TAGS[0]
f1.title.align = "left"
f1.title.offset = -258
f1.title.standoff = 0
f1.title.text_font = SERIF
f1.title.text_font_style = "normal"
f1.title.text_font_size = "86px"
f1.title.text_color = "#000000"

# row tag (b): label kept in a side panel of the first panel so it is not
# clipped to the frame; it sits below that panel's x axis title
f1.add_layout(Label(x=-0.255, y=-14.15, text=ROW_TAGS[1], text_align="center",
                    text_baseline="middle", text_font=SERIF,
                    text_font_size="84px", text_color="#000000"), "left")

layout = column(row(*figs[0:3]), row(*figs[3:6]))

with open("out.html", "w") as f:
    f.write(file_html(layout, INLINE))
